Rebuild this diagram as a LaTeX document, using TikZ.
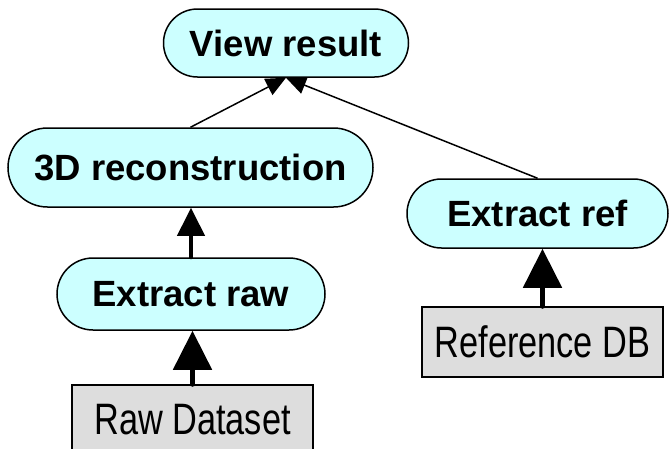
\documentclass[tikz,border=0pt]{standalone}
\usepackage{fontspec}
\setmainfont{Liberation Sans}
\newfontfamily\narrowsans[FakeStretch=0.78]{Liberation Sans}
\usetikzlibrary{arrows.meta,shapes.misc,backgrounds}

\definecolor{pillfill}{HTML}{CCFFFF}
\definecolor{boxfill}{HTML}{DDDDDD}

\tikzset{
  pill/.style={rounded rectangle, draw=black, line width=1.5pt, fill=pillfill,
    inner sep=0pt, font=\fontsize{36.5}{42}\selectfont\bfseries},
  databox/.style={rectangle, draw=black, line width=1.5pt, fill=boxfill,
    inner sep=0pt, font=\narrowsans\fontsize{44}{50}\selectfont},
  thinlink/.style={line width=1.5pt, -{Triangle[length=20pt,width=18pt]}},
  midlink/.style={line width=4pt, line cap=round, -{Triangle[length=28pt,width=27pt]}},
  boldlink/.style={line width=5pt, line cap=round, -{Triangle[length=39pt,width=38pt]}}
}

\begin{document}
\begin{tikzpicture}[x=1pt,y=-1pt]
  \useasboundingbox (0,0) rectangle (669,448);
  \clip (0,0) rectangle (669,448);

  % processing steps
  \node[pill, minimum width=245pt, minimum height=68pt] (view) at (286,43) {View result};
  \node[pill, minimum width=365pt, minimum height=79pt] (recon) at (190.5,167.5) {3D reconstruction};
  \node[pill, minimum width=268pt, minimum height=72pt] (exraw) at (191,294) {Extract raw};
  \node[pill, minimum width=261pt, minimum height=69pt] (exref) at (537.5,213.5) {Extract ref};

  % data sources
  \node[databox, minimum width=241pt, minimum height=70pt] (rawdata) at (192.5,420) {Raw Dataset};
  \node[databox, minimum width=241pt, minimum height=70pt] (refdb) at (542.5,342) {Reference DB};

  % thin links run beneath the result node
  \begin{scope}[on background layer]
    \draw[thinlink] (recon.north) -- (view.south);
    \draw[thinlink] (exref.north) -- (view.south);
  \end{scope}

  % heavy data-flow arrows
  \draw[midlink] (exraw.north) -- (exraw.north |- recon.south);
  \draw[boldlink] (rawdata.north) -- (rawdata.north |- exraw.south);
  \draw[boldlink] (refdb.north) -- (refdb.north |- exref.south);
\end{tikzpicture}
\end{document}
